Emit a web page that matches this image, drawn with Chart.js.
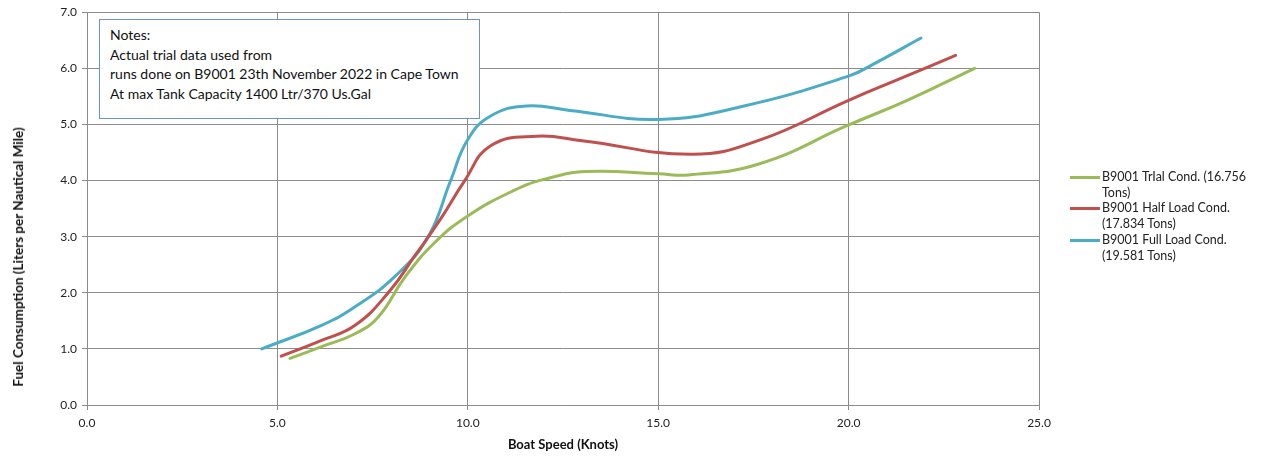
<!DOCTYPE html>
<html>
<head>
<meta charset="utf-8">
<script src="https://cdn.jsdelivr.net/npm/chart.js@4.4.1/dist/chart.umd.min.js"></script>
<style>
  html, body { margin: 0; padding: 0; background: #fff; }
  #wrap { position: relative; width: 1266px; height: 457px; }
  #notes {
    position: absolute; left: 99px; top: 19px; width: 369px; height: 88px;
    border: 1px solid #6a93c9; background: #fff; padding: 5px 0 5px 10px;
    font-family: Lato, "Open Sans", sans-serif; font-size: 14px; line-height: 19.7px; color: #111;
  }
  #legend { position: absolute; left: 1070px; top: 169px; font-family: Lato, sans-serif; font-size: 12.5px; color: #222; }
  .item { position: relative; padding-left: 32px; line-height: 15.7px; }
  .item .sw { position: absolute; left: 0; top: 7px; width: 30px; height: 3px; }
  #ytitle {
    position: absolute; left: 18px; top: 257px; transform: translate(-50%, -50%) rotate(-90deg);
    white-space: nowrap; font-family: Lato, sans-serif; font-weight: bold; font-size: 13.5px; color: #111;
  }
</style>
</head>
<body>
<div id="wrap">
  <canvas id="chart" width="1266" height="457"></canvas>
  <div id="notes"></div>
  <div id="legend"></div>
  <div id="ytitle"></div>
</div>
<script>
// series names and colors
let seriesNames = ["B9001 TrIal Cond. (16.756 Tons)", "B9001 Half Load Cond. (17.834 Tons)", "B9001 Full Load Cond. (19.581 Tons)"];
let legendLines = [["B9001 TrIal Cond. (16.756", "Tons)"], ["B9001 Half Load Cond.", "(17.834 Tons)"], ["B9001 Full Load Cond.", "(19.581 Tons)"]];
let seriesColors = ["#9bbb59", "#c0504d", "#4bacc6"];

// trial condition
let trialSpeed = [5.33, 6.16, 7.04, 7.65, 8.35, 9.14, 10.0, 11.2, 12.0, 13.1, 15.0, 15.8, 17.66, 20.0, 21.51, 23.31];
let trialFuel = [0.83, 1.04, 1.27, 1.57, 2.28, 2.9, 3.37, 3.82, 4.02, 4.16, 4.12, 4.1, 4.3, 4.99, 5.42, 6.0];

// half load
let halfSpeed = [5.1, 6.16, 7.04, 7.91, 8.61, 9.3, 9.92, 10.6, 11.8, 13.0, 15.9, 17.66, 20.0, 21.51, 22.81];
let halfFuel = [0.87, 1.15, 1.42, 2.0, 2.66, 3.33, 4.0, 4.62, 4.79, 4.71, 4.47, 4.72, 5.43, 5.86, 6.23];

// full load
let fullSpeed = [4.59, 6.16, 7.04, 8.1, 8.96, 9.55, 10.0, 10.6, 11.54, 12.68, 15.0, 17.14, 20.0, 20.64, 21.9];
let fullFuel = [1.0, 1.42, 1.75, 2.3, 3.0, 4.0, 4.73, 5.15, 5.33, 5.25, 5.09, 5.31, 5.86, 6.07, 6.54];

let notesText = ["Notes:", "Actual trial data used from", "runs done on B9001 23th November 2022 in Cape Town", "At max Tank Capacity 1400 Ltr/370 Us.Gal"];
let xTitle = "Boat Speed (Knots)";
let yTitle = "Fuel Consumption (Liters per Nautical Mile)";

function toPoints(xs, ys) {
  return xs.map((x, i) => ({ x: x, y: ys[i] }));
}

document.getElementById("notes").innerHTML = notesText.join("<br>");
document.getElementById("ytitle").textContent = yTitle;

let legend = document.getElementById("legend");
legendLines.forEach((lines, i) => {
  let d = document.createElement("div");
  d.className = "item";
  d.innerHTML = '<span class="sw" style="background:' + seriesColors[i] + '"></span>' + lines.join("<br>");
  legend.appendChild(d);
});

let gridColor = "#8c8c8c";

let chart = new Chart(document.getElementById("chart"), {
  type: "scatter",
  data: {
    datasets: [
      { label: seriesNames[0], data: toPoints(trialSpeed, trialFuel), borderColor: seriesColors[0] },
      { label: seriesNames[1], data: toPoints(halfSpeed, halfFuel), borderColor: seriesColors[1] },
      { label: seriesNames[2], data: toPoints(fullSpeed, fullFuel), borderColor: seriesColors[2] }
    ].map((d) => Object.assign(d, {
      showLine: true, borderWidth: 3, pointRadius: 0, tension: 0.45, fill: false, borderCapStyle: "round"
    }))
  },
  options: {
    responsive: false,
    animation: false,
    layout: { padding: { left: 0, right: 227, top: 11, bottom: 0 } },
    plugins: { legend: { display: false }, tooltip: { enabled: false } },
    scales: {
      x: {
        type: "linear", min: 0, max: 25,
        ticks: { stepSize: 5, callback: (v) => v.toFixed(1), color: "#222", font: { family: "Lato", size: 12 }, padding: 6 },
        grid: { color: gridColor, tickLength: 5, tickColor: gridColor },
        border: { color: gridColor },
        title: { display: true, text: xTitle, color: "#111", font: { family: "Lato", size: 13, weight: "bold" }, padding: { top: 4 } },
        afterFit: (s) => { s.height = 52; }
      },
      y: {
        min: 0, max: 7,
        ticks: { stepSize: 1, callback: (v) => v.toFixed(1), color: "#222", font: { family: "Lato", size: 12 }, padding: 5 },
        grid: { color: gridColor, tickLength: 5, tickColor: gridColor },
        border: { color: gridColor },
        afterFit: (s) => { s.width = 87; }
      }
    }
  }
});
</script>
</body>
</html>
